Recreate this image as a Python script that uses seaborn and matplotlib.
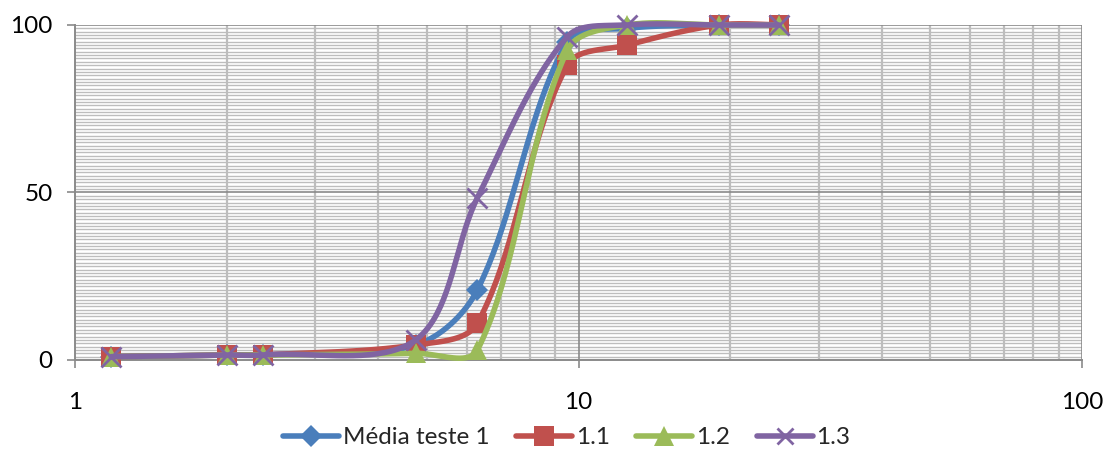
import numpy as np
import pandas as pd
import matplotlib
matplotlib.use("Agg")
import matplotlib.pyplot as plt
from matplotlib.lines import Line2D
import seaborn as sns

# ---- data ----
sieve_mm = [1.18, 2.0, 2.36, 4.75, 6.3, 9.5, 12.5, 19.0, 25.0]
series_names = ["Média teste 1", "1.1", "1.2", "1.3"]
media_teste_1 = [1.0, 1.5, 1.5, 4.5, 21.0, 95.0, 99.0, 100.0, 100.0]
s_1_1 = [1.0, 1.5, 1.5, 4.5, 11.0, 88.0, 94.0, 100.0, 100.0]
s_1_2 = [1.0, 1.5, 1.5, 2.0, 3.0, 92.5, 100.0, 100.0, 100.0]
s_1_3 = [1.0, 1.5, 1.5, 6.0, 48.5, 96.5, 100.0, 100.0, 100.0]
y_ticks = [0, 50, 100]
x_ticks = [1, 10, 100]
x_tick_labels = ["1", "10", "100"]

colors = ["#4A7EBB", "#C0504D", "#9BBB59", "#8064A2"]
markers = ["D", "s", "^", "x"]
msizes = [11, 14, 14, 14]

sns.set_theme(style="white")
plt.rcParams['font.family'] = ['Lato', 'DejaVu Sans']

PX_DEC = 503.0   # pixels per decade on x
PX_Y = 3.35      # pixels per unit on y


def smooth(xs, ys, n=40):
    """Excel-like Bezier smoothing, computed in pixel space."""
    P = np.column_stack([np.log10(xs) * PX_DEC, np.asarray(ys) * PX_Y])
    m = len(P)
    out = []
    d = np.linalg.norm(np.diff(P, axis=0), axis=1)
    for i in range(m - 1):
        p1, p2 = P[i], P[i + 1]
        if i > 0:
            t1 = (P[i + 1] - P[i - 1]) * d[i] / (d[i - 1] + d[i]) / 3.0
        else:
            t1 = (P[i + 1] - P[i]) / 3.0 * 0.5
        if i + 2 < m:
            t2 = (P[i + 2] - P[i]) * d[i] / (d[i] + d[i + 1]) / 3.0
        else:
            t2 = (P[i + 1] - P[i]) / 3.0 * 0.5
        c1 = p1 + t1
        c2 = p2 - t2
        t = np.linspace(0, 1, n, endpoint=(i == m - 2))[:, None]
        b = ((1 - t) ** 3) * p1 + 3 * ((1 - t) ** 2) * t * c1 + 3 * (1 - t) * t ** 2 * c2 + t ** 3 * p2
        out.append(b)
    B = np.vstack(out)
    return 10 ** (B[:, 0] / PX_DEC), B[:, 1] / PX_Y


fig = plt.figure(figsize=(11.07, 4.61), dpi=100)
ax = fig.add_axes([0.0678, 0.2191, 0.9096, 0.7267])
ax.set_xscale("log")
ax.set_xlim(1, 100)
ax.set_ylim(0, 100)

# grid
grid_minor = "#bdbdbd"
grid_major = "#8a8a8a"
for yv in range(1, 100):
    if yv % 50 != 0:
        ax.axhline(yv, color=grid_minor, lw=1.0, zorder=0)
for dec in [1, 10]:
    for k in range(2, 10):
        ax.axvline(dec * k, color=grid_minor, lw=1.6, zorder=0.5)
for yv in [50, 100]:
    ax.axhline(yv, color=grid_major, lw=1.2, zorder=0.6)
for xv in [10, 100]:
    ax.axvline(xv, color=grid_major, lw=1.2, zorder=0.6)

all_series = [media_teste_1, s_1_1, s_1_2, s_1_3]
handles = []
for i, (name, vals) in enumerate(zip(series_names, all_series)):
    sx, sy = smooth(sieve_mm, vals)
    dfl = pd.DataFrame({"x": sx, "y": sy})
    sns.lineplot(data=dfl, x="x", y="y", ax=ax, color=colors[i], lw=4,
                 sort=False, estimator=None, zorder=2 + i, clip_on=False)
    dfp = pd.DataFrame({"x": sieve_mm, "y": vals})
    if markers[i] == "x":
        ax.plot(dfp["x"], dfp["y"], ls="none", marker="x", ms=msizes[i],
                mew=2, color=colors[i], zorder=2.5 + i, clip_on=False)
    else:
        ax.plot(dfp["x"], dfp["y"], ls="none", marker=markers[i], ms=msizes[i],
                mew=0, color=colors[i], zorder=2.5 + i, clip_on=False)
    handles.append(Line2D([0], [0], color=colors[i], lw=4, marker=markers[i],
                          ms=msizes[i] if markers[i] != "x" else 11,
                          mew=0 if markers[i] != "x" else 2,
                          solid_capstyle="round"))

ax.set_xlabel("")
ax.set_ylabel("")
ax.set_yticks(y_ticks)
ax.set_xticks(x_ticks)
ax.set_xticklabels(x_tick_labels)
ax.xaxis.set_minor_locator(matplotlib.ticker.NullLocator())
ax.tick_params(axis="both", which="major", direction="out", length=6,
               width=1.2, color=grid_major, labelsize=17.5, labelcolor="black",
               left=True, bottom=True)
ax.tick_params(axis="y", pad=10)
ax.tick_params(axis="x", pad=17)

for side in ["top", "right"]:
    ax.spines[side].set_visible(False)
for side in ["left", "bottom"]:
    ax.spines[side].set_color(grid_major)
    ax.spines[side].set_linewidth(1.4)
    ax.spines[side].set_zorder(1)

fig.legend(handles, series_names, loc="center", bbox_to_anchor=(0.512, 0.05),
           ncol=4, frameon=False, fontsize=17.5, handlelength=2.3,
           handletextpad=0.15, columnspacing=1.1)

fig.savefig("out.png", dpi=100)
